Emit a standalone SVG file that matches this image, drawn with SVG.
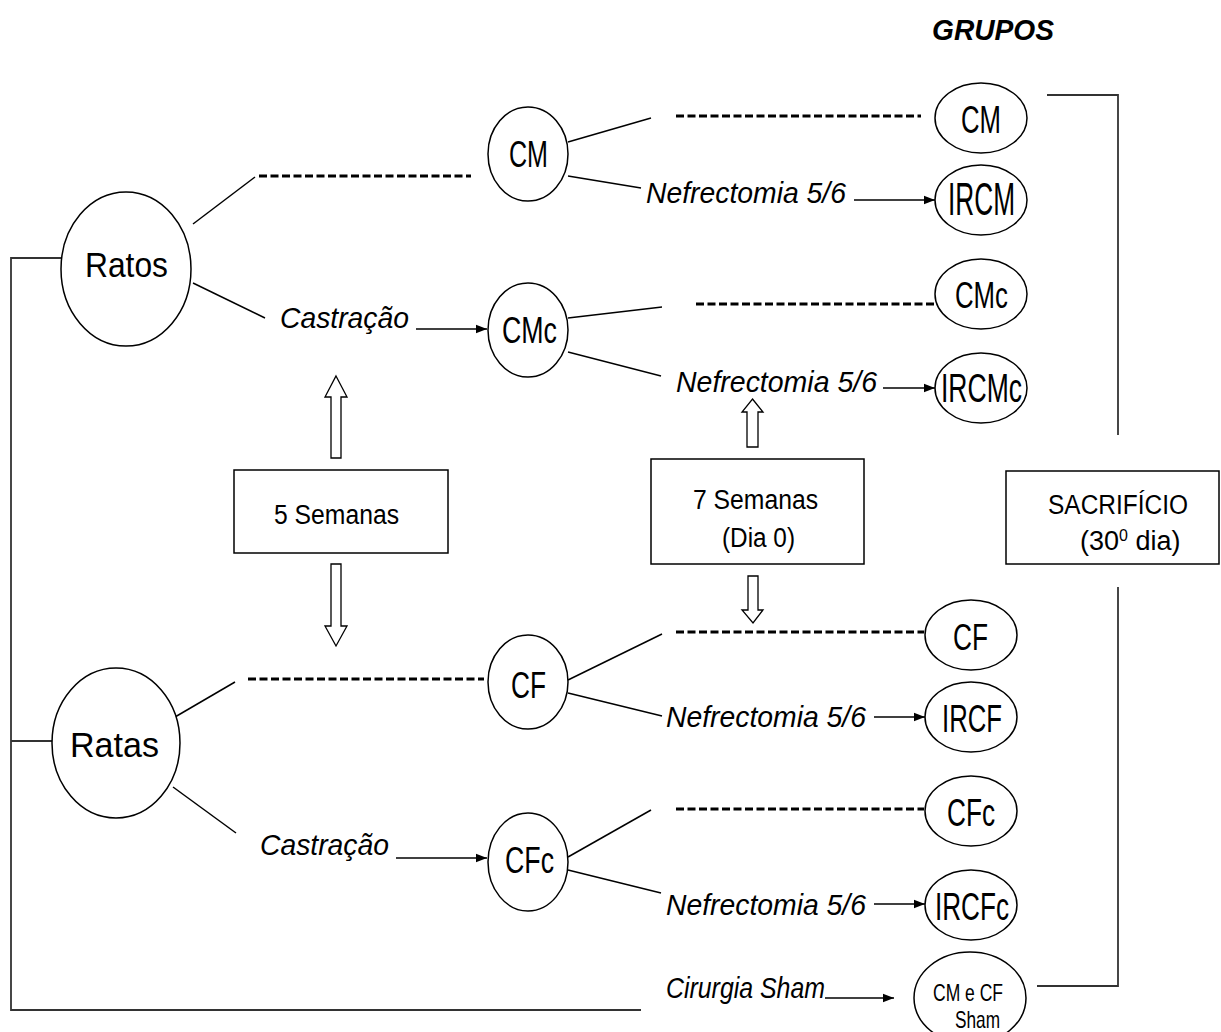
<svg xmlns="http://www.w3.org/2000/svg" width="1221" height="1032" viewBox="0 0 1221 1032">
<style>
  .node ellipse { fill: #ffffff; stroke: #000000; stroke-width: 1.5; }
  .box rect { fill: #ffffff; stroke: #000000; stroke-width: 1.5; }
  .lbl { font-family: "Liberation Sans", Arial, sans-serif; fill: #000000; text-anchor: start; }
  .it { font-family: "Liberation Sans", Arial, sans-serif; font-style: italic; fill: #000000; font-size: 29px; }
  .ln { stroke: #000000; stroke-width: 1.5; fill: none; }
  .br { stroke: #333333; stroke-width: 1.8; fill: none; }
  .dash { stroke: #000000; stroke-width: 3; stroke-dasharray: 8 3.5; fill: none; }
  .arr { stroke: #000000; stroke-width: 1.6; fill: none; marker-end: url(#ah); }
  .blk { fill: #ffffff; stroke: #000000; stroke-width: 1.3; }
</style>
<defs>
  <marker id="ah" markerUnits="userSpaceOnUse" markerWidth="12" markerHeight="10" refX="11" refY="5" orient="auto">
    <path d="M0,0.8 L11,5 L0,9.2 Z" fill="#000000"/>
  </marker>
</defs>

<text class="lbl" x="932" y="40" font-size="29" font-weight="bold" font-style="italic" textLength="122" lengthAdjust="spacingAndGlyphs">GRUPOS</text>

<g id="connectors">
  <!-- bracket left -->
  <polyline class="br" points="61,258 11,258 11,1010 641,1010"/>
  <line class="br" x1="11" y1="741" x2="52" y2="741"/>
  <!-- bracket right -->
  <polyline class="br" points="1047,95 1118,95 1118,435"/>
  <polyline class="br" points="1118,587 1118,986 1037,986"/>
  <!-- Ratos branches -->
  <line class="ln" x1="193" y1="224" x2="255" y2="177"/>
  <line class="dash" x1="259" y1="176" x2="471" y2="176"/>
  <line class="ln" x1="193" y1="283" x2="265" y2="318"/>
  <line class="arr" x1="416" y1="329" x2="487" y2="329"/>
  <!-- Ratas branches -->
  <line class="ln" x1="175" y1="717" x2="235" y2="682"/>
  <line class="dash" x1="248" y1="679" x2="484" y2="679"/>
  <line class="ln" x1="173" y1="787" x2="236" y2="833"/>
  <line class="arr" x1="396" y1="858" x2="487" y2="858"/>
  <!-- CM branches -->
  <line class="ln" x1="568" y1="142" x2="651" y2="118"/>
  <line class="dash" x1="676" y1="116" x2="921" y2="116"/>
  <line class="ln" x1="568" y1="176" x2="641" y2="188"/>
  <line class="arr" x1="854" y1="200" x2="935" y2="200"/>
  <!-- CMc branches -->
  <line class="ln" x1="568" y1="318" x2="662" y2="307"/>
  <line class="dash" x1="696" y1="304" x2="934" y2="304"/>
  <line class="ln" x1="568" y1="352" x2="661" y2="376"/>
  <line class="arr" x1="883" y1="388" x2="935" y2="388"/>
  <!-- CF branches -->
  <line class="ln" x1="568" y1="680" x2="662" y2="634"/>
  <line class="dash" x1="676" y1="632" x2="924" y2="632"/>
  <line class="ln" x1="568" y1="693" x2="662" y2="716"/>
  <line class="arr" x1="874" y1="717" x2="925" y2="717"/>
  <!-- CFc branches -->
  <line class="ln" x1="568" y1="857" x2="651" y2="810"/>
  <line class="dash" x1="676" y1="809" x2="924" y2="809"/>
  <line class="ln" x1="568" y1="870" x2="661" y2="893"/>
  <line class="arr" x1="874" y1="904" x2="925" y2="904"/>
  <!-- Sham -->
  <line class="arr" x1="825" y1="998" x2="894" y2="998"/>
  <!-- block arrows -->
  <path class="blk" d="M336,376 L347,397 L341,397 L341,458 L331,458 L331,397 L325,397 Z"/>
  <path class="blk" d="M331,564 L341,564 L341,626 L347,626 L336,646 L325,626 L331,626 Z"/>
  <path class="blk" d="M752.5,399 L763,412 L758,412 L758,447 L747,447 L747,412 L742,412 Z"/>
  <path class="blk" d="M748,576 L758,576 L758,610 L763,610 L753,623 L742,610 L748,610 Z"/>
</g>

<text class="it" x="280" y="328" textLength="129" lengthAdjust="spacingAndGlyphs">Castração</text>
<text class="it" x="260" y="855" textLength="129" lengthAdjust="spacingAndGlyphs">Castração</text>
<text class="it" x="646" y="203" textLength="200" lengthAdjust="spacingAndGlyphs">Nefrectomia 5/6</text>
<text class="it" x="676" y="392" textLength="201" lengthAdjust="spacingAndGlyphs">Nefrectomia 5/6</text>
<text class="it" x="666" y="727" textLength="200" lengthAdjust="spacingAndGlyphs">Nefrectomia 5/6</text>
<text class="it" x="666" y="915" textLength="200" lengthAdjust="spacingAndGlyphs">Nefrectomia 5/6</text>
<text class="it" x="666" y="998" font-size="27" textLength="159" lengthAdjust="spacingAndGlyphs">Cirurgia Sham</text>

<g id="ratos" class="node"><ellipse cx="126" cy="269" rx="65" ry="77"/><text class="lbl" x="85" y="277" font-size="35" textLength="83" lengthAdjust="spacingAndGlyphs">Ratos</text></g>
<g id="ratas" class="node"><ellipse cx="116" cy="743" rx="64" ry="75"/><text class="lbl" x="70" y="757" font-size="35" textLength="89" lengthAdjust="spacingAndGlyphs">Ratas</text></g>

<g id="cm-mid" class="node"><ellipse cx="528" cy="154" rx="40" ry="47"/><text class="lbl" x="509" y="167" font-size="36" textLength="39" lengthAdjust="spacingAndGlyphs">CM</text></g>
<g id="cmc-mid" class="node"><ellipse cx="528" cy="330" rx="40" ry="47"/><text class="lbl" x="502" y="343" font-size="36" textLength="55" lengthAdjust="spacingAndGlyphs">CMc</text></g>
<g id="cf-mid" class="node"><ellipse cx="528" cy="682" rx="40" ry="47"/><text class="lbl" x="511" y="698" font-size="36" textLength="35" lengthAdjust="spacingAndGlyphs">CF</text></g>
<g id="cfc-mid" class="node"><ellipse cx="528" cy="862" rx="40" ry="49"/><text class="lbl" x="505" y="873" font-size="36" textLength="49" lengthAdjust="spacingAndGlyphs">CFc</text></g>

<g id="cm" class="node"><ellipse cx="981" cy="118" rx="46" ry="35"/><text class="lbl" x="961" y="133" font-size="38" textLength="40" lengthAdjust="spacingAndGlyphs">CM</text></g>
<g id="ircm" class="node"><ellipse cx="981" cy="200" rx="46" ry="35"/><text class="lbl" x="948" y="215" font-size="46" textLength="67" lengthAdjust="spacingAndGlyphs">IRCM</text></g>
<g id="cmc" class="node"><ellipse cx="981" cy="294" rx="46" ry="35"/><text class="lbl" x="955" y="308" font-size="36" textLength="53" lengthAdjust="spacingAndGlyphs">CMc</text></g>
<g id="ircmc" class="node"><ellipse cx="981" cy="388" rx="46" ry="35"/><text class="lbl" x="941" y="402" font-size="40" textLength="81" lengthAdjust="spacingAndGlyphs">IRCMc</text></g>
<g id="cf" class="node"><ellipse cx="971" cy="635" rx="46" ry="35"/><text class="lbl" x="953" y="650" font-size="37" textLength="35" lengthAdjust="spacingAndGlyphs">CF</text></g>
<g id="ircf" class="node"><ellipse cx="971" cy="717" rx="46" ry="35"/><text class="lbl" x="942" y="732" font-size="38" textLength="60" lengthAdjust="spacingAndGlyphs">IRCF</text></g>
<g id="cfc" class="node"><ellipse cx="971" cy="811" rx="46" ry="35"/><text class="lbl" x="947" y="826" font-size="38" textLength="48" lengthAdjust="spacingAndGlyphs">CFc</text></g>
<g id="ircfc" class="node"><ellipse cx="971" cy="905" rx="46" ry="35"/><text class="lbl" x="935" y="920" font-size="38" textLength="74" lengthAdjust="spacingAndGlyphs">IRCFc</text></g>
<g id="sham" class="node"><ellipse cx="970" cy="998" rx="56" ry="46"/><text class="lbl" x="933" y="1001" font-size="24" textLength="70" lengthAdjust="spacingAndGlyphs">CM e CF</text><text class="lbl" x="955" y="1028" font-size="24" textLength="45" lengthAdjust="spacingAndGlyphs">Sham</text></g>

<g id="box-5sem" class="box"><rect x="234" y="470" width="214" height="83"/><text class="lbl" x="274" y="524" font-size="27" textLength="125" lengthAdjust="spacingAndGlyphs">5 Semanas</text></g>
<g id="box-7sem" class="box"><rect x="651" y="459" width="213" height="105"/><text class="lbl" x="693" y="509" font-size="27" textLength="125" lengthAdjust="spacingAndGlyphs">7 Semanas</text><text class="lbl" x="722" y="547" font-size="27" textLength="73" lengthAdjust="spacingAndGlyphs">(Dia 0)</text></g>
<g id="box-sacrificio" class="box"><rect x="1006" y="471" width="213" height="93"/><text class="lbl" x="1048" y="514" font-size="27" textLength="140" lengthAdjust="spacingAndGlyphs">SACRIFÍCIO</text><text class="lbl" x="1080" y="550" font-size="27">(30<tspan font-size="16" dy="-9">0</tspan><tspan dy="9"> dia)</tspan></text></g>
</svg>
